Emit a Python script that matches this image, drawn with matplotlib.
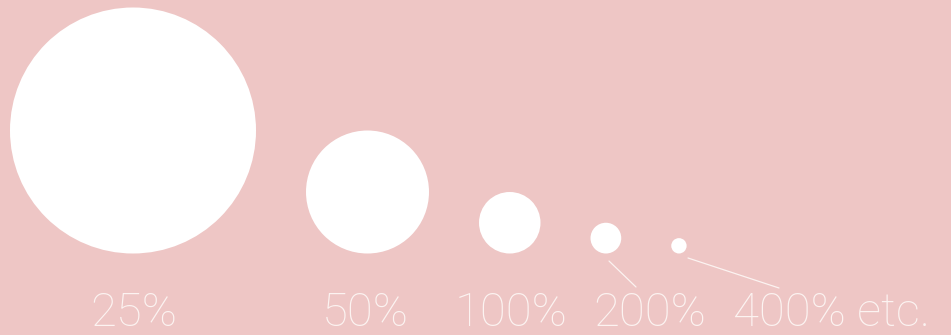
import matplotlib
matplotlib.use('Agg')
import matplotlib.pyplot as plt
from matplotlib.patches import Circle

# ── Data ──────────────────────────────────────────────────────────────────────
percents = [25, 50, 100, 200, 400]
labels = ['25%', '50%', '100%', '200%', '400% etc.']

BG = '#EEC6C5'
FG = '#FFFFFF'
TXT = '#FCF3F1'

W, H = 951, 335
BASE_R = 123.0        # radius at 25 %
GAP = 50.0            # space between neighbouring circles
LEFT = 10.0
BOTTOM = 253.5        # circles sit on a common baseline

fig = plt.figure(figsize=(W / 100, H / 100), dpi=100)
fig.patch.set_facecolor(BG)
ax = fig.add_axes([0, 0, 1, 1])
ax.set_xlim(0, W)
ax.set_ylim(H, 0)
ax.set_aspect('equal')
ax.axis('off')

# circles: radius inversely proportional to the percentage
x_edge = LEFT
for p in percents:
    r = BASE_R * percents[0] / p
    cx = x_edge + r
    ax.add_patch(Circle((cx, BOTTOM - r), r, color=FG, ec='none', zorder=3))
    x_edge = cx + r + GAP

# labels along the bottom
label_x = [134, 365, 511, 650, 733]
for i, (lab, lx) in enumerate(zip(labels, label_x)):
    ha = 'left' if i == len(labels) - 1 else 'center'
    ax.text(lx, 325.5, lab, ha=ha, va='baseline', fontsize=34,
            color=TXT, family=['Roboto', 'DejaVu Sans'], fontweight='light')

# leader lines for the small circles
ax.plot([609, 636], [261, 287], color=TXT, lw=0.9, solid_capstyle='round')
ax.plot([688, 779], [258, 288], color=TXT, lw=0.9, solid_capstyle='round')

fig.savefig('out.png', dpi=100, facecolor=BG)
plt.close(fig)
